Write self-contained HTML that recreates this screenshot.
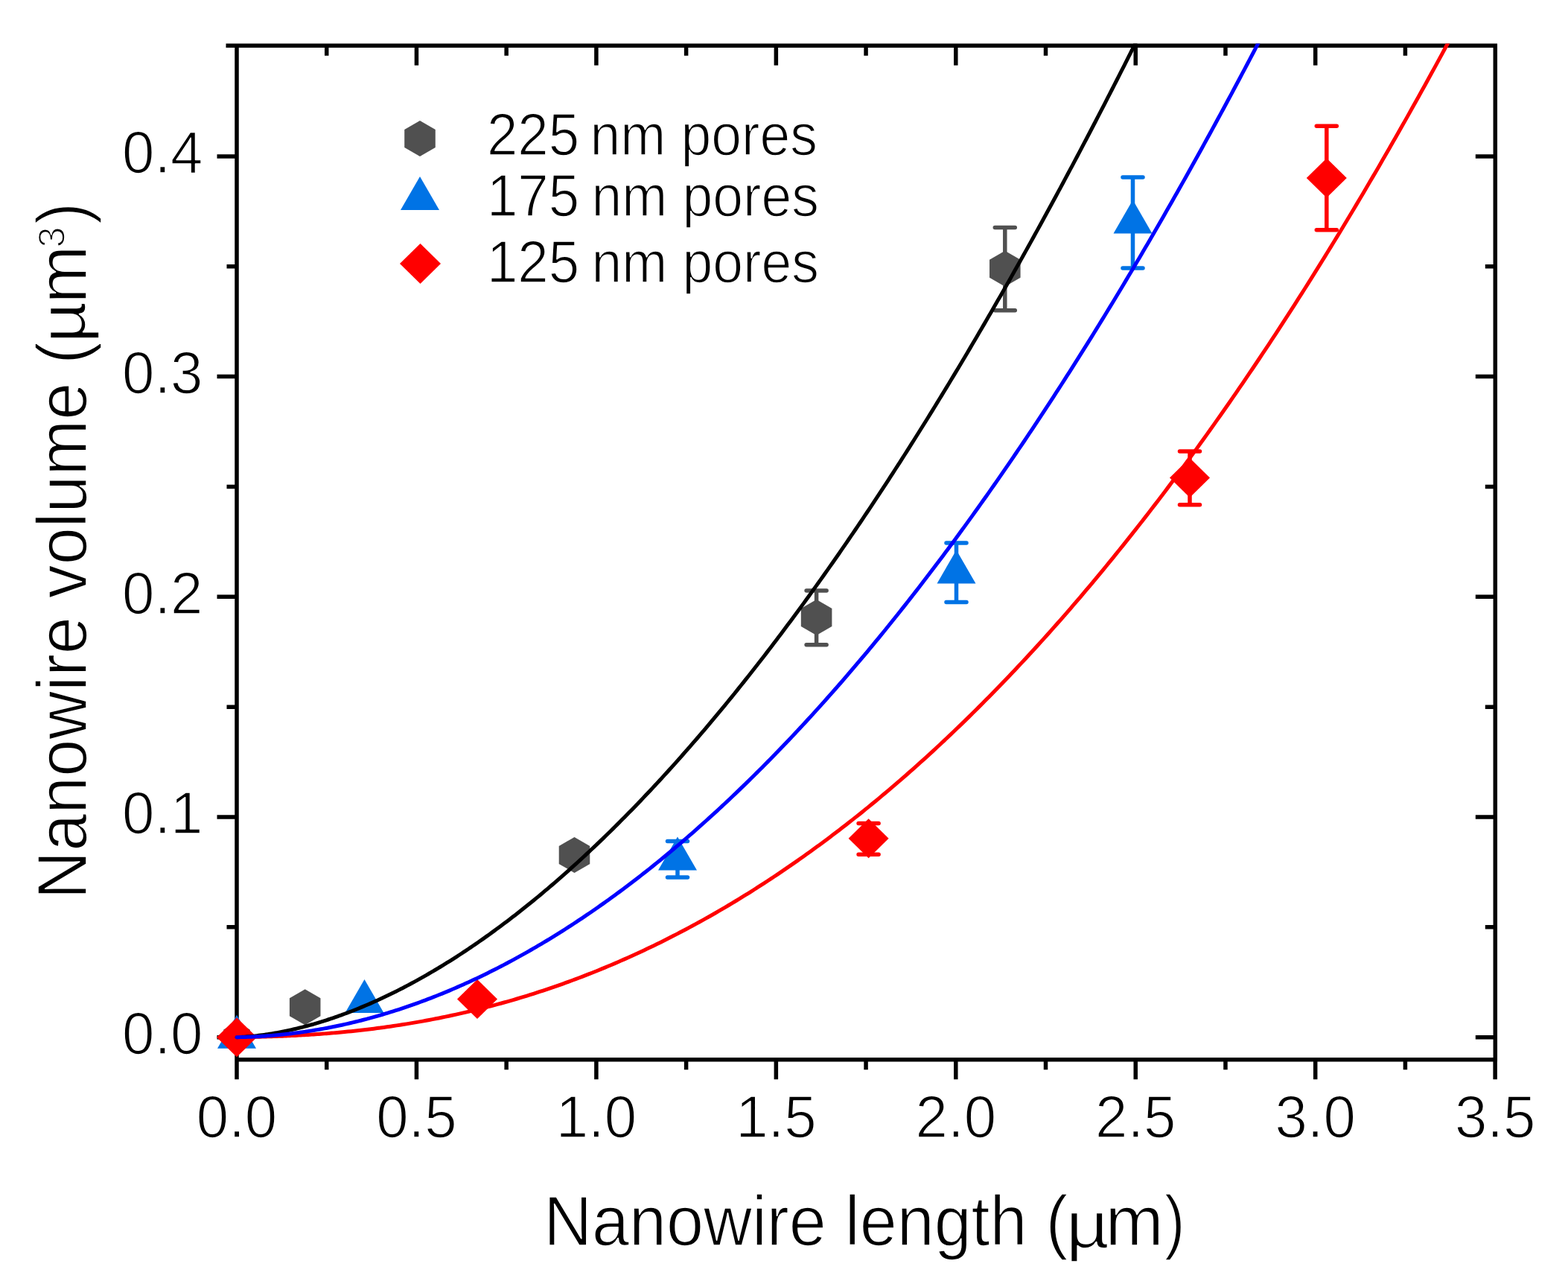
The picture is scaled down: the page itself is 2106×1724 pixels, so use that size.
<!DOCTYPE html><html><head><meta charset="utf-8"><title>Nanowire volume vs length</title><style>html,body{margin:0;padding:0;background:#fff;overflow:hidden}svg{display:block}</style></head><body><div id="wrap"><svg width="2106" height="1724" viewBox="0 0 2106 1724" font-family="'Liberation Sans', Arial, sans-serif" fill="#000"><style>text{stroke:#fff;stroke-width:1.6px;stroke-linejoin:round}</style><defs><clipPath id="clip"><rect x="288.0" y="58.5" width="1720.3" height="1364.3"/></clipPath></defs><rect x="0" y="0" width="2106" height="1724" fill="#fff"/><path d="M318.0,61.2 L2008.3,61.2 L2008.3,1422.8 L318.0,1422.8 Z M318.00,1422.8 L318.00,1449.3 M438.73,1422.8 L438.73,1436.3 M438.73,61.2 L438.73,74.7 M559.45,1422.8 L559.45,1449.3 M559.45,61.2 L559.45,87.7 M680.17,1422.8 L680.17,1436.3 M680.17,61.2 L680.17,74.7 M800.90,1422.8 L800.90,1449.3 M800.90,61.2 L800.90,87.7 M921.62,1422.8 L921.62,1436.3 M921.62,61.2 L921.62,74.7 M1042.35,1422.8 L1042.35,1449.3 M1042.35,61.2 L1042.35,87.7 M1163.07,1422.8 L1163.07,1436.3 M1163.07,61.2 L1163.07,74.7 M1283.80,1422.8 L1283.80,1449.3 M1283.80,61.2 L1283.80,87.7 M1404.52,1422.8 L1404.52,1436.3 M1404.52,61.2 L1404.52,74.7 M1525.25,1422.8 L1525.25,1449.3 M1525.25,61.2 L1525.25,87.7 M1645.97,1422.8 L1645.97,1436.3 M1645.97,61.2 L1645.97,74.7 M1766.70,1422.8 L1766.70,1449.3 M1766.70,61.2 L1766.70,87.7 M1887.42,1422.8 L1887.42,1436.3 M1887.42,61.2 L1887.42,74.7 M2008.15,1422.8 L2008.15,1449.3 M318.0,1392.70 L291.5,1392.70 M2008.3,1392.70 L1981.8,1392.70 M318.0,1244.85 L304.5,1244.85 M2008.3,1244.85 L1994.8,1244.85 M318.0,1097.00 L291.5,1097.00 M2008.3,1097.00 L1981.8,1097.00 M318.0,949.15 L304.5,949.15 M2008.3,949.15 L1994.8,949.15 M318.0,801.30 L291.5,801.30 M2008.3,801.30 L1981.8,801.30 M318.0,653.45 L304.5,653.45 M2008.3,653.45 L1994.8,653.45 M318.0,505.60 L291.5,505.60 M2008.3,505.60 L1981.8,505.60 M318.0,357.75 L304.5,357.75 M2008.3,357.75 L1994.8,357.75 M318.0,209.90 L291.5,209.90 M2008.3,209.90 L1981.8,209.90 M318.0,61.2 L303.5,61.2" stroke="#000" stroke-width="5.5" fill="none" stroke-linecap="butt" stroke-linejoin="miter"/><polygon points="318.00,1372.20 335.75,1382.45 335.75,1402.95 318.00,1413.20 300.25,1402.95 300.25,1382.45" fill="#505050"/><polygon points="409.70,1328.20 430.48,1340.20 430.48,1364.20 409.70,1376.20 388.92,1364.20 388.92,1340.20" fill="#505050"/><polygon points="771.50,1123.90 792.28,1135.90 792.28,1159.90 771.50,1171.90 750.72,1159.90 750.72,1135.90" fill="#505050"/><path d="M1096.60,793.00 L1096.60,865.70 M1083.10,793.00 L1110.10,793.00 M1083.10,865.70 L1110.10,865.70" stroke="#505050" stroke-width="5.5" stroke-linecap="round" fill="none"/><polygon points="1096.60,805.00 1117.38,817.00 1117.38,841.00 1096.60,853.00 1075.82,841.00 1075.82,817.00" fill="#505050"/><path d="M1349.80,305.40 L1349.80,416.70 M1336.30,305.40 L1363.30,305.40 M1336.30,416.70 L1363.30,416.70" stroke="#505050" stroke-width="5.5" stroke-linecap="round" fill="none"/><polygon points="1349.80,336.80 1370.58,348.80 1370.58,372.80 1349.80,384.80 1329.02,372.80 1329.02,348.80" fill="#505050"/><polygon points="318.00,1362.68 344.00,1407.71 292.00,1407.71" fill="#0073E5"/><polygon points="489.50,1314.88 515.50,1359.91 463.50,1359.91" fill="#0073E5"/><path d="M910.00,1129.60 L910.00,1178.10 M896.50,1129.60 L923.50,1129.60 M896.50,1178.10 L923.50,1178.10" stroke="#0073E5" stroke-width="5.5" stroke-linecap="round" fill="none"/><polygon points="910.00,1123.48 936.00,1168.51 884.00,1168.51" fill="#0073E5"/><path d="M1284.50,729.00 L1284.50,808.60 M1271.00,729.00 L1298.00,729.00 M1271.00,808.60 L1298.00,808.60" stroke="#0073E5" stroke-width="5.5" stroke-linecap="round" fill="none"/><polygon points="1284.50,738.48 1310.50,783.51 1258.50,783.51" fill="#0073E5"/><path d="M1521.50,238.10 L1521.50,360.10 M1508.00,238.10 L1535.00,238.10 M1508.00,360.10 L1535.00,360.10" stroke="#0073E5" stroke-width="5.5" stroke-linecap="round" fill="none"/><polygon points="1521.50,268.48 1547.50,313.51 1495.50,313.51" fill="#0073E5"/><polygon points="318.00,1366.20 345.00,1392.70 318.00,1419.20 291.00,1392.70" fill="#FF0000"/><polygon points="641.00,1315.00 668.00,1341.50 641.00,1368.00 614.00,1341.50" fill="#FF0000"/><path d="M1166.60,1105.60 L1166.60,1147.30 M1153.10,1105.60 L1180.10,1105.60 M1153.10,1147.30 L1180.10,1147.30" stroke="#FF0000" stroke-width="5.5" stroke-linecap="round" fill="none"/><polygon points="1166.60,1099.20 1193.60,1125.70 1166.60,1152.20 1139.60,1125.70" fill="#FF0000"/><path d="M1598.00,606.00 L1598.00,677.70 M1584.50,606.00 L1611.50,606.00 M1584.50,677.70 L1611.50,677.70" stroke="#FF0000" stroke-width="5.5" stroke-linecap="round" fill="none"/><polygon points="1598.00,615.00 1625.00,641.50 1598.00,668.00 1571.00,641.50" fill="#FF0000"/><path d="M1781.80,169.20 L1781.80,308.80 M1768.30,169.20 L1795.30,169.20 M1768.30,308.80 L1795.30,308.80" stroke="#FF0000" stroke-width="5.5" stroke-linecap="round" fill="none"/><polygon points="1781.80,212.50 1808.80,239.00 1781.80,265.50 1754.80,239.00" fill="#FF0000"/><g clip-path="url(#clip)"><path d="M318.00,1392.70 L320.46,1392.61 L322.91,1392.50 L325.37,1392.36 L327.82,1392.20 L330.28,1392.03 L332.73,1391.84 L335.19,1391.63 L337.64,1391.40 L340.10,1391.16 L342.55,1390.90 L345.01,1390.63 L347.47,1390.33 L349.92,1390.03 L352.38,1389.71 L354.83,1389.37 L357.29,1389.02 L359.74,1388.65 L362.20,1388.27 L364.65,1387.88 L367.11,1387.47 L369.56,1387.04 L372.02,1386.60 L374.47,1386.15 L376.93,1385.69 L379.39,1385.21 L381.84,1384.72 L384.30,1384.21 L386.75,1383.69 L389.21,1383.16 L391.66,1382.61 L394.12,1382.05 L396.57,1381.48 L399.03,1380.89 L401.48,1380.29 L403.94,1379.68 L406.40,1379.06 L408.85,1378.42 L411.31,1377.77 L413.76,1377.11 L416.22,1376.43 L418.67,1375.75 L421.13,1375.05 L423.58,1374.33 L426.04,1373.61 L428.49,1372.87 L430.95,1372.12 L433.40,1371.36 L435.86,1370.59 L438.32,1369.80 L440.77,1369.00 L443.23,1368.19 L445.68,1367.37 L448.14,1366.54 L450.59,1365.69 L453.05,1364.83 L455.50,1363.96 L457.96,1363.08 L460.41,1362.19 L462.87,1361.28 L466.00,1360.11 L469.14,1358.92 L472.27,1357.71 L475.40,1356.48 L478.53,1355.23 L481.67,1353.97 L484.80,1352.68 L487.93,1351.38 L491.07,1350.05 L494.20,1348.71 L497.33,1347.35 L500.47,1345.98 L503.60,1344.58 L506.73,1343.17 L509.86,1341.73 L513.00,1340.28 L516.13,1338.82 L519.26,1337.33 L522.40,1335.82 L525.53,1334.30 L528.66,1332.76 L531.80,1331.20 L534.93,1329.63 L538.06,1328.03 L541.19,1326.42 L544.33,1324.79 L547.46,1323.14 L550.59,1321.48 L553.73,1319.80 L556.86,1318.10 L559.99,1316.38 L563.12,1314.64 L566.26,1312.89 L569.39,1311.12 L572.52,1309.33 L575.66,1307.53 L578.79,1305.71 L581.92,1303.87 L585.06,1302.01 L588.19,1300.14 L591.32,1298.25 L594.45,1296.34 L597.59,1294.42 L600.72,1292.48 L603.85,1290.52 L606.99,1288.54 L610.12,1286.55 L613.25,1284.54 L616.38,1282.52 L619.52,1280.47 L622.65,1278.41 L625.78,1276.34 L628.92,1274.24 L632.05,1272.13 L635.18,1270.01 L638.32,1267.87 L641.45,1265.71 L644.58,1263.53 L647.71,1261.34 L650.85,1259.13 L653.98,1256.90 L657.11,1254.66 L660.25,1252.40 L663.38,1250.12 L666.51,1247.83 L669.65,1245.53 L672.78,1243.20 L675.91,1240.86 L679.04,1238.50 L682.18,1236.13 L685.31,1233.74 L688.44,1231.33 L691.58,1228.91 L694.71,1226.47 L697.84,1224.02 L700.97,1221.55 L704.11,1219.06 L707.24,1216.56 L710.37,1214.04 L713.51,1211.51 L716.64,1208.96 L719.77,1206.39 L722.91,1203.81 L726.04,1201.21 L729.17,1198.59 L732.30,1195.96 L735.44,1193.32 L738.57,1190.65 L741.70,1187.98 L744.84,1185.28 L747.97,1182.57 L751.10,1179.85 L754.23,1177.11 L757.37,1174.35 L760.50,1171.58 L763.63,1168.79 L766.77,1165.98 L769.90,1163.16 L773.03,1160.33 L776.17,1157.48 L779.30,1154.61 L782.43,1151.73 L785.56,1148.83 L788.70,1145.92 L791.83,1142.99 L794.96,1140.04 L798.10,1137.08 L801.23,1134.11 L804.36,1131.12 L807.50,1128.11 L810.63,1125.09 L813.76,1122.05 L816.89,1119.00 L820.03,1115.93 L823.16,1112.85 L826.29,1109.75 L829.43,1106.63 L832.56,1103.50 L835.69,1100.36 L838.82,1097.20 L841.96,1094.02 L845.09,1090.83 L848.22,1087.63 L851.36,1084.41 L854.49,1081.17 L857.62,1077.92 L860.76,1074.65 L863.89,1071.37 L867.02,1068.07 L870.15,1064.76 L873.29,1061.43 L876.42,1058.09 L879.55,1054.73 L882.69,1051.36 L885.82,1047.97 L888.95,1044.57 L892.09,1041.15 L895.22,1037.72 L898.35,1034.27 L901.48,1030.81 L904.62,1027.33 L907.75,1023.84 L910.88,1020.33 L914.02,1016.81 L917.15,1013.28 L920.28,1009.72 L923.41,1006.16 L926.55,1002.57 L929.68,998.98 L932.81,995.37 L935.95,991.74 L939.08,988.10 L942.21,984.44 L945.35,980.77 L948.48,977.09 L951.61,973.38 L954.74,969.67 L957.88,965.94 L961.01,962.20 L964.14,958.44 L967.28,954.66 L970.41,950.87 L973.54,947.07 L976.67,943.25 L979.81,939.42 L982.94,935.57 L986.07,931.71 L989.21,927.83 L992.34,923.94 L995.47,920.03 L998.61,916.11 L1001.74,912.18 L1004.87,908.23 L1008.00,904.27 L1011.14,900.29 L1014.27,896.29 L1017.40,892.29 L1020.54,888.26 L1023.67,884.23 L1026.80,880.18 L1029.94,876.11 L1033.07,872.03 L1036.20,867.93 L1039.33,863.83 L1042.47,859.70 L1045.60,855.56 L1048.73,851.41 L1051.87,847.25 L1055.00,843.06 L1058.13,838.87 L1061.26,834.66 L1064.40,830.43 L1067.53,826.20 L1070.66,821.94 L1073.80,817.68 L1076.93,813.39 L1080.06,809.10 L1083.20,804.79 L1086.33,800.46 L1089.46,796.13 L1092.59,791.77 L1095.73,787.41 L1098.86,783.02 L1101.99,778.63 L1105.13,774.22 L1108.26,769.79 L1111.39,765.36 L1114.52,760.90 L1117.66,756.44 L1120.79,751.96 L1123.92,747.46 L1127.06,742.95 L1130.19,738.43 L1133.32,733.89 L1136.46,729.34 L1139.59,724.77 L1142.72,720.19 L1145.85,715.60 L1148.99,710.99 L1152.12,706.37 L1155.25,701.73 L1158.39,697.08 L1161.52,692.42 L1164.65,687.74 L1167.79,683.05 L1170.92,678.34 L1174.05,673.62 L1177.18,668.89 L1180.32,664.14 L1183.45,659.38 L1186.58,654.60 L1189.72,649.81 L1192.85,645.01 L1195.98,640.19 L1199.11,635.36 L1202.25,630.51 L1205.38,625.65 L1208.51,620.78 L1211.65,615.89 L1214.78,610.99 L1217.91,606.07 L1221.05,601.14 L1224.18,596.20 L1227.31,591.24 L1230.44,586.27 L1233.58,581.29 L1236.71,576.29 L1239.84,571.27 L1242.98,566.25 L1246.11,561.21 L1249.24,556.15 L1252.37,551.09 L1255.51,546.00 L1258.64,540.91 L1261.77,535.80 L1264.91,530.68 L1268.04,525.54 L1271.17,520.39 L1274.31,515.23 L1277.44,510.05 L1280.57,504.86 L1283.70,499.65 L1286.84,494.43 L1289.97,489.20 L1293.10,483.95 L1296.24,478.69 L1299.37,473.42 L1302.50,468.13 L1305.64,462.83 L1308.77,457.51 L1311.90,452.19 L1315.03,446.84 L1318.17,441.49 L1321.30,436.12 L1324.43,430.74 L1327.57,425.34 L1330.70,419.93 L1333.83,414.50 L1336.96,409.07 L1340.10,403.62 L1343.23,398.15 L1346.36,392.67 L1349.50,387.18 L1352.63,381.68 L1355.76,376.16 L1358.90,370.62 L1362.03,365.08 L1365.16,359.52 L1368.29,353.95 L1371.43,348.36 L1374.56,342.76 L1377.69,337.14 L1380.83,331.52 L1383.96,325.88 L1387.09,320.22 L1390.23,314.56 L1393.36,308.87 L1396.49,303.18 L1399.62,297.47 L1402.76,291.75 L1405.89,286.02 L1409.02,280.27 L1412.16,274.51 L1415.29,268.73 L1418.42,262.94 L1421.55,257.14 L1424.69,251.33 L1427.82,245.50 L1430.95,239.65 L1434.09,233.80 L1437.22,227.93 L1440.35,222.05 L1443.49,216.15 L1446.62,210.24 L1449.75,204.32 L1452.88,198.39 L1456.02,192.44 L1459.15,186.47 L1462.28,180.50 L1465.42,174.51 L1468.55,168.51 L1471.68,162.49 L1474.81,156.46 L1477.95,150.42 L1481.08,144.37 L1484.21,138.30 L1487.35,132.22 L1490.48,126.12 L1493.61,120.01 L1496.75,113.89 L1499.88,107.76 L1503.01,101.61 L1506.14,95.45 L1509.28,89.27 L1512.41,83.08 L1515.54,76.88 L1518.68,70.67 L1521.81,64.44 L1524.94,58.20" stroke="#000000" stroke-width="5.0" fill="none" stroke-linejoin="round" stroke-linecap="round"/><path d="M318.00,1392.70 L320.46,1392.67 L322.91,1392.64 L325.37,1392.60 L327.82,1392.56 L330.28,1392.53 L332.73,1392.48 L335.19,1392.44 L337.64,1392.39 L340.10,1392.35 L342.55,1392.30 L345.01,1392.24 L347.47,1392.19 L349.92,1392.13 L352.38,1392.06 L354.83,1392.00 L357.29,1391.93 L359.74,1391.86 L362.20,1391.78 L364.65,1391.71 L367.11,1391.62 L369.56,1391.54 L372.02,1391.45 L374.47,1391.36 L376.93,1391.27 L379.39,1391.17 L381.84,1391.07 L384.30,1390.96 L386.75,1390.85 L389.21,1390.74 L391.66,1390.62 L394.12,1390.50 L396.57,1390.38 L399.03,1390.25 L401.48,1390.12 L403.94,1389.99 L406.40,1389.85 L408.85,1389.71 L411.31,1389.56 L413.76,1389.41 L416.22,1389.26 L418.67,1389.10 L421.13,1388.93 L423.58,1388.77 L426.04,1388.60 L428.49,1388.42 L430.95,1388.24 L433.40,1388.06 L435.86,1387.87 L438.32,1387.68 L440.77,1387.49 L443.23,1387.29 L445.68,1387.08 L448.14,1386.87 L450.59,1386.66 L453.05,1386.45 L455.50,1386.22 L457.96,1386.00 L460.41,1385.77 L462.87,1385.53 L467.24,1385.10 L471.61,1384.66 L475.98,1384.20 L480.35,1383.73 L484.72,1383.25 L489.09,1382.74 L493.46,1382.23 L497.84,1381.70 L502.21,1381.15 L506.58,1380.59 L510.95,1380.02 L515.32,1379.42 L519.69,1378.82 L524.06,1378.20 L528.43,1377.56 L532.80,1376.90 L537.17,1376.24 L541.54,1375.55 L545.91,1374.85 L550.28,1374.13 L554.65,1373.40 L559.03,1372.65 L563.40,1371.89 L567.77,1371.10 L572.14,1370.31 L576.51,1369.49 L580.88,1368.66 L585.25,1367.81 L589.62,1366.95 L593.99,1366.07 L598.36,1365.17 L602.73,1364.25 L607.10,1363.32 L611.47,1362.37 L615.84,1361.41 L620.22,1360.42 L624.59,1359.42 L628.96,1358.40 L633.33,1357.37 L637.70,1356.31 L642.07,1355.24 L646.44,1354.15 L650.81,1353.05 L655.18,1351.92 L659.55,1350.78 L663.92,1349.62 L668.29,1348.44 L672.66,1347.25 L677.03,1346.03 L681.41,1344.80 L685.78,1343.55 L690.15,1342.28 L694.52,1341.00 L698.89,1339.69 L703.26,1338.37 L707.63,1337.03 L712.00,1335.67 L716.37,1334.29 L720.74,1332.89 L725.11,1331.47 L729.48,1330.04 L733.85,1328.58 L738.22,1327.11 L742.60,1325.62 L746.97,1324.10 L751.34,1322.57 L755.71,1321.02 L760.08,1319.46 L764.45,1317.87 L768.82,1316.26 L773.19,1314.63 L777.56,1312.99 L781.93,1311.32 L786.30,1309.64 L790.67,1307.93 L795.04,1306.21 L799.41,1304.47 L803.79,1302.70 L808.16,1300.92 L812.53,1299.12 L816.90,1297.29 L821.27,1295.45 L825.64,1293.59 L830.01,1291.71 L834.38,1289.80 L838.75,1287.88 L843.12,1285.94 L847.49,1283.98 L851.86,1281.99 L856.23,1279.99 L860.60,1277.97 L864.98,1275.92 L869.35,1273.86 L873.72,1271.77 L878.09,1269.67 L882.46,1267.54 L886.83,1265.39 L891.20,1263.23 L895.57,1261.04 L899.94,1258.83 L904.31,1256.60 L908.68,1254.35 L913.05,1252.08 L917.42,1249.79 L921.79,1247.48 L926.17,1245.14 L930.54,1242.79 L934.91,1240.41 L939.28,1238.02 L943.65,1235.60 L948.02,1233.16 L952.39,1230.70 L956.76,1228.22 L961.13,1225.72 L965.50,1223.19 L969.87,1220.65 L974.24,1218.08 L978.61,1215.49 L982.98,1212.88 L987.36,1210.25 L991.73,1207.60 L996.10,1204.92 L1000.47,1202.23 L1004.84,1199.51 L1009.21,1196.77 L1013.58,1194.01 L1017.95,1191.22 L1022.32,1188.42 L1026.69,1185.59 L1031.06,1182.74 L1035.43,1179.87 L1039.80,1176.98 L1044.17,1174.06 L1048.55,1171.13 L1052.92,1168.17 L1057.29,1165.19 L1061.66,1162.18 L1066.03,1159.16 L1070.40,1156.11 L1074.77,1153.04 L1079.14,1149.95 L1083.51,1146.83 L1087.88,1143.70 L1092.25,1140.54 L1096.62,1137.35 L1100.99,1134.15 L1105.36,1130.92 L1109.74,1127.67 L1114.11,1124.40 L1118.48,1121.11 L1122.85,1117.79 L1127.22,1114.45 L1131.59,1111.09 L1135.96,1107.70 L1140.33,1104.29 L1144.70,1100.86 L1149.07,1097.41 L1153.44,1093.93 L1157.81,1090.43 L1162.18,1086.91 L1166.55,1083.36 L1170.93,1079.79 L1175.30,1076.20 L1179.67,1072.58 L1184.04,1068.95 L1188.41,1065.28 L1192.78,1061.60 L1197.15,1057.89 L1201.52,1054.16 L1205.89,1050.41 L1210.26,1046.63 L1214.63,1042.83 L1219.00,1039.00 L1223.37,1035.15 L1227.74,1031.28 L1232.12,1027.39 L1236.49,1023.47 L1240.86,1019.53 L1245.23,1015.56 L1249.60,1011.57 L1253.97,1007.56 L1258.34,1003.52 L1262.71,999.46 L1267.08,995.38 L1271.45,991.27 L1275.82,987.14 L1280.19,982.98 L1284.56,978.80 L1288.93,974.60 L1293.30,970.37 L1297.68,966.12 L1302.05,961.85 L1306.42,957.55 L1310.79,953.23 L1315.16,948.88 L1319.53,944.51 L1323.90,940.11 L1328.27,935.69 L1332.64,931.25 L1337.01,926.78 L1341.38,922.29 L1345.75,917.77 L1350.12,913.23 L1354.49,908.67 L1358.87,904.08 L1363.24,899.46 L1367.61,894.83 L1371.98,890.16 L1376.35,885.48 L1380.72,880.77 L1385.09,876.03 L1389.46,871.27 L1393.83,866.48 L1398.20,861.67 L1402.57,856.84 L1406.94,851.98 L1411.31,847.10 L1415.68,842.19 L1420.06,837.26 L1424.43,832.30 L1428.80,827.32 L1433.17,822.31 L1437.54,817.28 L1441.91,812.22 L1446.28,807.14 L1450.65,802.03 L1455.02,796.90 L1459.39,791.74 L1463.76,786.56 L1468.13,781.35 L1472.50,776.12 L1476.87,770.86 L1481.25,765.58 L1485.62,760.27 L1489.99,754.94 L1494.36,749.58 L1498.73,744.20 L1503.10,738.79 L1507.47,733.36 L1511.84,727.90 L1516.21,722.41 L1520.58,716.90 L1524.95,711.37 L1529.32,705.81 L1533.69,700.22 L1538.06,694.61 L1542.44,688.97 L1546.81,683.31 L1551.18,677.62 L1555.55,671.91 L1559.92,666.17 L1564.29,660.41 L1568.66,654.62 L1573.03,648.80 L1577.40,642.96 L1581.77,637.09 L1586.14,631.20 L1590.51,625.28 L1594.88,619.34 L1599.25,613.37 L1603.63,607.37 L1608.00,601.35 L1612.37,595.30 L1616.74,589.23 L1621.11,583.13 L1625.48,577.00 L1629.85,570.85 L1634.22,564.67 L1638.59,558.47 L1642.96,552.24 L1647.33,545.99 L1651.70,539.70 L1656.07,533.40 L1660.44,527.06 L1664.82,520.70 L1669.19,514.32 L1673.56,507.90 L1677.93,501.46 L1682.30,495.00 L1686.67,488.51 L1691.04,481.99 L1695.41,475.45 L1699.78,468.88 L1704.15,462.28 L1708.52,455.66 L1712.89,449.01 L1717.26,442.33 L1721.63,435.63 L1726.01,428.90 L1730.38,422.15 L1734.75,415.36 L1739.12,408.56 L1743.49,401.72 L1747.86,394.86 L1752.23,387.97 L1756.60,381.06 L1760.97,374.11 L1765.34,367.15 L1769.71,360.15 L1774.08,353.13 L1778.45,346.08 L1782.82,339.01 L1787.20,331.90 L1791.57,324.78 L1795.94,317.62 L1800.31,310.44 L1804.68,303.23 L1809.05,295.99 L1813.42,288.73 L1817.79,281.44 L1822.16,274.12 L1826.53,266.78 L1830.90,259.41 L1835.27,252.01 L1839.64,244.58 L1844.01,237.13 L1848.39,229.65 L1852.76,222.14 L1857.13,214.61 L1861.50,207.05 L1865.87,199.46 L1870.24,191.85 L1874.61,184.20 L1878.98,176.53 L1883.35,168.84 L1887.72,161.11 L1892.09,153.36 L1896.46,145.58 L1900.83,137.77 L1905.20,129.94 L1909.58,122.08 L1913.95,114.19 L1918.32,106.27 L1922.69,98.33 L1927.06,90.36 L1931.43,82.36 L1935.80,74.33 L1940.17,66.28 L1944.54,58.20" stroke="#FF0000" stroke-width="5.0" fill="none" stroke-linejoin="round" stroke-linecap="round"/><path d="M318.00,1392.70 L320.46,1392.66 L322.91,1392.61 L325.37,1392.56 L327.82,1392.49 L330.28,1392.42 L332.73,1392.33 L335.19,1392.24 L337.64,1392.14 L340.10,1392.03 L342.55,1391.91 L345.01,1391.78 L347.47,1391.64 L349.92,1391.50 L352.38,1391.34 L354.83,1391.18 L357.29,1391.01 L359.74,1390.83 L362.20,1390.64 L364.65,1390.44 L367.11,1390.23 L369.56,1390.01 L372.02,1389.79 L374.47,1389.56 L376.93,1389.31 L379.39,1389.06 L381.84,1388.80 L384.30,1388.54 L386.75,1388.26 L389.21,1387.97 L391.66,1387.68 L394.12,1387.38 L396.57,1387.06 L399.03,1386.74 L401.48,1386.42 L403.94,1386.08 L406.40,1385.73 L408.85,1385.38 L411.31,1385.01 L413.76,1384.64 L416.22,1384.26 L418.67,1383.87 L421.13,1383.47 L423.58,1383.07 L426.04,1382.65 L428.49,1382.23 L430.95,1381.79 L433.40,1381.35 L435.86,1380.90 L438.32,1380.45 L440.77,1379.98 L443.23,1379.50 L445.68,1379.02 L448.14,1378.53 L450.59,1378.03 L453.05,1377.52 L455.50,1377.00 L457.96,1376.47 L460.41,1375.94 L462.87,1375.39 L466.49,1374.58 L470.11,1373.74 L473.73,1372.89 L477.35,1372.01 L480.97,1371.12 L484.59,1370.21 L488.21,1369.28 L491.83,1368.34 L495.45,1367.37 L499.06,1366.39 L502.68,1365.38 L506.30,1364.36 L509.92,1363.32 L513.54,1362.27 L517.16,1361.19 L520.78,1360.09 L524.40,1358.98 L528.02,1357.85 L531.64,1356.70 L535.26,1355.53 L538.88,1354.34 L542.50,1353.14 L546.12,1351.91 L549.74,1350.67 L553.36,1349.41 L556.98,1348.13 L560.60,1346.83 L564.21,1345.52 L567.83,1344.18 L571.45,1342.83 L575.07,1341.46 L578.69,1340.07 L582.31,1338.66 L585.93,1337.23 L589.55,1335.79 L593.17,1334.32 L596.79,1332.84 L600.41,1331.34 L604.03,1329.83 L607.65,1328.29 L611.27,1326.73 L614.89,1325.16 L618.51,1323.57 L622.13,1321.96 L625.75,1320.33 L629.36,1318.68 L632.98,1317.02 L636.60,1315.34 L640.22,1313.64 L643.84,1311.92 L647.46,1310.18 L651.08,1308.42 L654.70,1306.65 L658.32,1304.85 L661.94,1303.04 L665.56,1301.21 L669.18,1299.37 L672.80,1297.50 L676.42,1295.62 L680.04,1293.71 L683.66,1291.79 L687.28,1289.85 L690.90,1287.90 L694.52,1285.92 L698.13,1283.93 L701.75,1281.92 L705.37,1279.89 L708.99,1277.84 L712.61,1275.77 L716.23,1273.69 L719.85,1271.58 L723.47,1269.46 L727.09,1267.32 L730.71,1265.17 L734.33,1262.99 L737.95,1260.80 L741.57,1258.58 L745.19,1256.35 L748.81,1254.10 L752.43,1251.84 L756.05,1249.55 L759.67,1247.25 L763.28,1244.93 L766.90,1242.59 L770.52,1240.23 L774.14,1237.85 L777.76,1235.46 L781.38,1233.05 L785.00,1230.62 L788.62,1228.17 L792.24,1225.70 L795.86,1223.22 L799.48,1220.71 L803.10,1218.19 L806.72,1215.65 L810.34,1213.10 L813.96,1210.52 L817.58,1207.93 L821.20,1205.32 L824.82,1202.69 L828.44,1200.04 L832.05,1197.37 L835.67,1194.69 L839.29,1191.98 L842.91,1189.26 L846.53,1186.52 L850.15,1183.77 L853.77,1180.99 L857.39,1178.20 L861.01,1175.39 L864.63,1172.56 L868.25,1169.71 L871.87,1166.84 L875.49,1163.96 L879.11,1161.06 L882.73,1158.14 L886.35,1155.20 L889.97,1152.25 L893.59,1149.27 L897.20,1146.28 L900.82,1143.27 L904.44,1140.24 L908.06,1137.19 L911.68,1134.13 L915.30,1131.05 L918.92,1127.95 L922.54,1124.83 L926.16,1121.69 L929.78,1118.53 L933.40,1115.36 L937.02,1112.17 L940.64,1108.96 L944.26,1105.73 L947.88,1102.49 L951.50,1099.22 L955.12,1095.94 L958.74,1092.64 L962.35,1089.33 L965.97,1085.99 L969.59,1082.64 L973.21,1079.27 L976.83,1075.88 L980.45,1072.47 L984.07,1069.04 L987.69,1065.60 L991.31,1062.14 L994.93,1058.66 L998.55,1055.16 L1002.17,1051.64 L1005.79,1048.11 L1009.41,1044.56 L1013.03,1040.99 L1016.65,1037.40 L1020.27,1033.79 L1023.89,1030.17 L1027.51,1026.53 L1031.12,1022.87 L1034.74,1019.19 L1038.36,1015.49 L1041.98,1011.78 L1045.60,1008.04 L1049.22,1004.29 L1052.84,1000.53 L1056.46,996.74 L1060.08,992.94 L1063.70,989.11 L1067.32,985.27 L1070.94,981.41 L1074.56,977.54 L1078.18,973.64 L1081.80,969.73 L1085.42,965.80 L1089.04,961.85 L1092.66,957.89 L1096.27,953.90 L1099.89,949.90 L1103.51,945.88 L1107.13,941.84 L1110.75,937.79 L1114.37,933.71 L1117.99,929.62 L1121.61,925.51 L1125.23,921.38 L1128.85,917.24 L1132.47,913.07 L1136.09,908.89 L1139.71,904.69 L1143.33,900.47 L1146.95,896.24 L1150.57,891.98 L1154.19,887.71 L1157.81,883.42 L1161.42,879.11 L1165.04,874.79 L1168.66,870.45 L1172.28,866.08 L1175.90,861.70 L1179.52,857.31 L1183.14,852.89 L1186.76,848.46 L1190.38,844.01 L1194.00,839.54 L1197.62,835.05 L1201.24,830.55 L1204.86,826.02 L1208.48,821.48 L1212.10,816.92 L1215.72,812.35 L1219.34,807.75 L1222.96,803.14 L1226.58,798.51 L1230.19,793.86 L1233.81,789.19 L1237.43,784.51 L1241.05,779.81 L1244.67,775.09 L1248.29,770.35 L1251.91,765.59 L1255.53,760.82 L1259.15,756.03 L1262.77,751.22 L1266.39,746.39 L1270.01,741.54 L1273.63,736.68 L1277.25,731.80 L1280.87,726.90 L1284.49,721.98 L1288.11,717.05 L1291.73,712.09 L1295.34,707.12 L1298.96,702.13 L1302.58,697.13 L1306.20,692.10 L1309.82,687.06 L1313.44,682.00 L1317.06,676.92 L1320.68,671.82 L1324.30,666.71 L1327.92,661.58 L1331.54,656.43 L1335.16,651.26 L1338.78,646.07 L1342.40,640.87 L1346.02,635.65 L1349.64,630.41 L1353.26,625.15 L1356.88,619.88 L1360.49,614.58 L1364.11,609.27 L1367.73,603.94 L1371.35,598.60 L1374.97,593.23 L1378.59,587.85 L1382.21,582.45 L1385.83,577.03 L1389.45,571.59 L1393.07,566.14 L1396.69,560.67 L1400.31,555.18 L1403.93,549.67 L1407.55,544.15 L1411.17,538.60 L1414.79,533.04 L1418.41,527.46 L1422.03,521.87 L1425.65,516.25 L1429.26,510.62 L1432.88,504.97 L1436.50,499.30 L1440.12,493.61 L1443.74,487.91 L1447.36,482.19 L1450.98,476.45 L1454.60,470.69 L1458.22,464.91 L1461.84,459.12 L1465.46,453.31 L1469.08,447.48 L1472.70,441.63 L1476.32,435.77 L1479.94,429.89 L1483.56,423.99 L1487.18,418.07 L1490.80,412.13 L1494.41,406.18 L1498.03,400.21 L1501.65,394.22 L1505.27,388.21 L1508.89,382.18 L1512.51,376.14 L1516.13,370.08 L1519.75,364.00 L1523.37,357.90 L1526.99,351.79 L1530.61,345.66 L1534.23,339.51 L1537.85,333.34 L1541.47,327.15 L1545.09,320.95 L1548.71,314.73 L1552.33,308.49 L1555.95,302.23 L1559.57,295.96 L1563.18,289.66 L1566.80,283.35 L1570.42,277.03 L1574.04,270.68 L1577.66,264.32 L1581.28,257.93 L1584.90,251.53 L1588.52,245.12 L1592.14,238.68 L1595.76,232.23 L1599.38,225.76 L1603.00,219.27 L1606.62,212.76 L1610.24,206.24 L1613.86,199.70 L1617.48,193.14 L1621.10,186.56 L1624.72,179.96 L1628.33,173.35 L1631.95,166.72 L1635.57,160.07 L1639.19,153.40 L1642.81,146.72 L1646.43,140.02 L1650.05,133.30 L1653.67,126.56 L1657.29,119.80 L1660.91,113.03 L1664.53,106.24 L1668.15,99.43 L1671.77,92.60 L1675.39,85.76 L1679.01,78.89 L1682.63,72.01 L1686.25,65.12 L1689.87,58.20" stroke="#0000FF" stroke-width="5.0" fill="none" stroke-linejoin="round" stroke-linecap="round"/></g><text transform="translate(318.00,1527.3) scale(0.975,1)" font-size="80" text-anchor="middle">0.0</text><text transform="translate(559.45,1527.3) scale(0.975,1)" font-size="80" text-anchor="middle">0.5</text><text transform="translate(800.90,1527.3) scale(0.975,1)" font-size="80" text-anchor="middle">1.0</text><text transform="translate(1042.35,1527.3) scale(0.975,1)" font-size="80" text-anchor="middle">1.5</text><text transform="translate(1283.80,1527.3) scale(0.975,1)" font-size="80" text-anchor="middle">2.0</text><text transform="translate(1525.25,1527.3) scale(0.975,1)" font-size="80" text-anchor="middle">2.5</text><text transform="translate(1766.70,1527.3) scale(0.975,1)" font-size="80" text-anchor="middle">3.0</text><text transform="translate(2008.15,1527.3) scale(0.975,1)" font-size="80" text-anchor="middle">3.5</text><text transform="translate(272.5,1415.00) scale(0.975,1)" font-size="80" text-anchor="end">0.0</text><text transform="translate(272.5,1119.30) scale(0.975,1)" font-size="80" text-anchor="end">0.1</text><text transform="translate(272.5,823.60) scale(0.975,1)" font-size="80" text-anchor="end">0.2</text><text transform="translate(272.5,527.90) scale(0.975,1)" font-size="80" text-anchor="end">0.3</text><text transform="translate(272.5,232.20) scale(0.975,1)" font-size="80" text-anchor="end">0.4</text><polygon points="564.00,162.00 584.78,174.00 584.78,198.00 564.00,210.00 543.22,198.00 543.22,174.00" fill="#505050"/><text y="208.0" font-size="80"><tspan x="653.95" textLength="124.14" lengthAdjust="spacingAndGlyphs">225</tspan> <tspan x="792.54" font-size="77" textLength="305.25" lengthAdjust="spacingAndGlyphs">nm pores</tspan></text><polygon points="564.00,236.98 590.00,282.01 538.00,282.01" fill="#0073E5"/><text y="290.4" font-size="80"><tspan x="653.95" textLength="124.14" lengthAdjust="spacingAndGlyphs">175</tspan> <tspan x="794.54" font-size="77" textLength="305.25" lengthAdjust="spacingAndGlyphs">nm pores</tspan></text><polygon points="564.50,327.10 592.00,354.10 564.50,381.10 537.00,354.10" fill="#FF0000"/><text y="378.7" font-size="80"><tspan x="653.95" textLength="124.14" lengthAdjust="spacingAndGlyphs">125</tspan> <tspan x="794.54" font-size="77" textLength="305.25" lengthAdjust="spacingAndGlyphs">nm pores</tspan></text><text><tspan x="730.20" y="1672.30" font-size="94" textLength="704.24" lengthAdjust="spacingAndGlyphs">Nanowire length (</tspan><tspan x="1431.40" y="1674.80" font-size="88.5" textLength="58.44" lengthAdjust="spacingAndGlyphs">µ</tspan><tspan x="1484.60" y="1672.30" font-size="94" textLength="78.31" lengthAdjust="spacingAndGlyphs">m</tspan><tspan x="1564.10" y="1672.30" font-size="94" textLength="27.56" lengthAdjust="spacingAndGlyphs">)</tspan></text><text transform="rotate(-90)"><tspan x="-1207.50" y="115.50" font-size="94" textLength="748.53" lengthAdjust="spacingAndGlyphs">Nanowire volume (</tspan><tspan x="-460.80" y="114.20" font-size="88.5" textLength="55.84" lengthAdjust="spacingAndGlyphs">µ</tspan><tspan x="-407.40" y="115.50" font-size="94" textLength="78.08" lengthAdjust="spacingAndGlyphs">m</tspan><tspan x="-332.60" y="87.20" font-size="50.5" textLength="28.09" lengthAdjust="spacingAndGlyphs">3</tspan><tspan x="-301.10" y="115.50" font-size="94" textLength="29.03" lengthAdjust="spacingAndGlyphs">)</tspan></text></svg></div></body></html>
